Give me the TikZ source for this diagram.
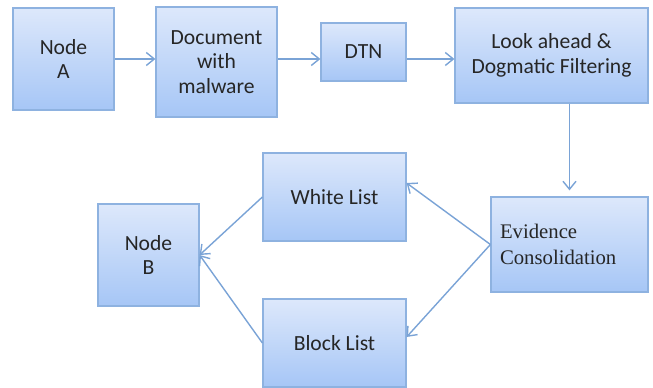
\documentclass[tikz,border=0pt]{standalone}
\usepackage{fontspec}
\setmainfont{Carlito}
\newfontfamily\evfont{Liberation Serif}
\usepackage{xcolor}
\usetikzlibrary{
    arrows.meta,
    positioning,
    calc,
    shadows
}
\definecolor{boxtop}{HTML}{DDE8FB}
\definecolor{boxbot}{HTML}{A6C6F6}
\definecolor{boxline}{HTML}{8EB2E0}
\definecolor{flowline}{HTML}{7AA3D6}

\begin{document}
\begin{tikzpicture}[
        x=0.02cm, y=-0.02cm,
        box/.style={draw=boxline, line width=0.7pt, top color=boxtop, bottom color=boxbot,
            drop shadow={opacity=0.25, shadow xshift=0.6pt, shadow yshift=-0.8pt},
            align=center, font=\fontsize{12.3}{14}\selectfont, text=black!85, inner sep=0pt},
        flow/.style={draw=flowline, line width=0.8pt, -{Straight Barb[length=1.6mm, width=2.6mm]}}
    ]
        \useasboundingbox (0,0) rectangle (653,388);

        % Top row
        \node[box, minimum width=2.02cm, minimum height=2.04cm] (nodea) at (63.5,59) {Node\\A};
        \node[box, minimum width=2.42cm, minimum height=2.2cm] (doc) at (216.5,62) {Document\\with\\malware};
        \node[box, minimum width=1.7cm, minimum height=1.16cm] (dtn) at (363.5,52) {DTN};
        \node[box, minimum width=3.86cm, minimum height=1.9cm] (look) at (551.5,55.5) {Look ahead \&\\Dogmatic Filtering};

        % Lower part
        \node[box, minimum width=3.14cm, minimum height=1.9cm, text width=2.78cm, inner xsep=0.18cm,
            align=left, font=\evfont\fontsize{11.8}{14.6}\selectfont] (evid) at (569.5,244.5) {Evidence\\Consolidation};
        \node[box, minimum width=2.86cm, minimum height=1.76cm] (white) at (334.5,197) {White List};
        \node[box, minimum width=2.86cm, minimum height=1.76cm] (block) at (334.5,343) {Block List};
        \node[box, minimum width=2.02cm, minimum height=2.04cm] (nodeb) at (148.5,255) {Node\\B};

        % Arrows
        \draw[flow] (nodea.east) -- (nodea.east -| doc.west);
        \draw[flow] (doc.east |- nodea) -- (dtn.west |- nodea);
        \draw[flow] (dtn.east |- nodea) -- (look.west |- nodea);
        \draw[flow, shorten >=0.12cm] (look.south -| evid) -- (evid.north);
        \draw[flow] (evid.west) -- ([yshift=0.28cm]white.east);
        \draw[flow] (evid.west) -- ([yshift=0.12cm]block.east);
        \draw[flow] (white.west) -- (nodeb.east);
        \draw[flow] (block.west) -- (nodeb.east);
    \end{tikzpicture}
\end{document}
